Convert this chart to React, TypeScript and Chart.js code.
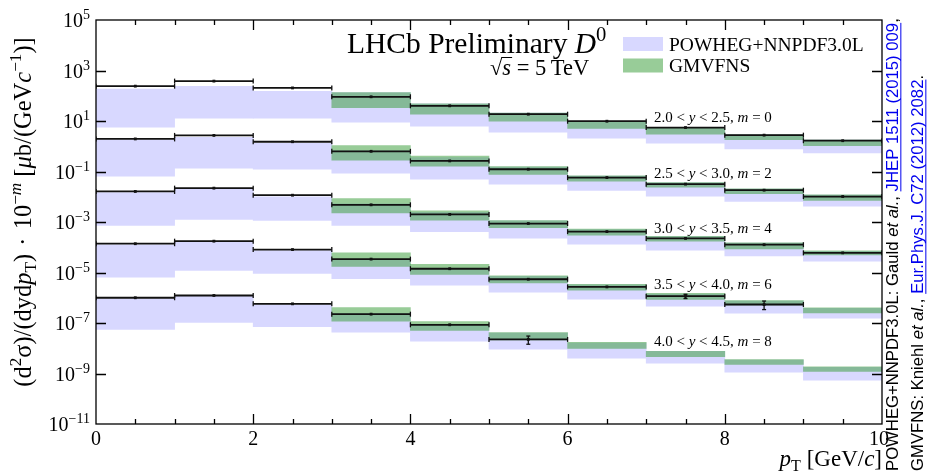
import React, { useEffect, useRef } from "react";
import { Chart, registerables } from "chart.js";

Chart.register(...registerables);

// ---------- data (plotted values, i.e. cross-section x 10^-m) ----------
const PT_EDGES = [0, 1, 2, 3, 4, 5, 6, 7, 8, 9, 10];
const M_VALUES = [0, 2, 4, 6, 8];
const Y_LO = ["2.0", "2.5", "3.0", "3.5", "4.0"];
const Y_HI = ["2.5", "3.0", "3.5", "4.0", "4.5"];

const DATA_B1 = [240, 380, 204, 91, 40, 18.6, 9.8, 5.5, 2.75, 1.66];
const DATA_B2 = [1.95, 2.69, 1.51, 0.63, 0.263, 0.123, 0.0575, 0.0316, 0.0182, 0.0102];
const DATA_B3 = [0.0162, 0.0219, 0.0115, 0.00479, 0.002, 8.7e-4, 4.17e-4, 2.24e-4, 1.26e-4, 6.0e-5];
const DATA_B4 = [1.38e-4, 1.74e-4, 8.1e-5, 3.39e-5, 1.41e-5, 5.4e-6, 2.69e-6, 1.15e-6, 5.4e-7, null];
const DATA_B5 = [1.0e-6, 1.23e-6, 5.75e-7, 2.24e-7, 8.5e-8, 2.24e-8, null, null, null, null];

const ERR_B1 = [0, 0, 0, 0, 0, 0, 0, 0, 0, 0];
const ERR_B2 = [0, 0, 0, 0, 0, 0, 0, 0, 0, 0];
const ERR_B3 = [0, 0, 0, 0, 0, 0, 0, 0, 0, 0];
const ERR_B4 = [0, 0, 0, 0, 0, 0, 0, 2.2e-7, 2.0e-7, 0];
const ERR_B5 = [0, 0, 0, 0, 0, 8e-9, 0, 0, 0, 0];

const POW_TOP_B1 = [182, 234, 148, 135, 47.9, 20.4, 9.8, 5.1, 2.82, 1.74];
const POW_BOT_B1 = [5.7, 12.9, 12.9, 8.9, 6.2, 3.63, 2.09, 1.32, 0.79, 0.54];
const POW_TOP_B2 = [1.78, 2.24, 1.32, 0.676, 0.355, 0.151, 0.066, 0.0355, 0.02, 0.0117];
const POW_BOT_B2 = [0.0646, 0.135, 0.123, 0.0851, 0.0501, 0.0316, 0.0178, 0.0105, 0.00646, 0.00427];
const POW_TOP_B3 = [0.0145, 0.0195, 0.01, 0.00525, 0.0024, 0.0011, 5.0e-4, 2.63e-4, 1.45e-4, 6.9e-5];
const POW_BOT_B3 = [7.4e-4, 0.00126, 0.00115, 7.4e-4, 4.17e-4, 2.29e-4, 1.32e-4, 7.6e-5, 4.57e-5, 2.82e-5];
const POW_TOP_B4 = [1.26e-4, 1.55e-4, 7.4e-5, 3.24e-5, 1.41e-5, 7.1e-6, 3.24e-6, 1.41e-6, 7.4e-7, 3.8e-7];
const POW_BOT_B4 = [6.5e-6, 1.2e-5, 9.3e-6, 5.75e-6, 3.16e-6, 1.66e-6, 8.7e-7, 4.68e-7, 2.45e-7, 1.55e-7];
const POW_TOP_B5 = [9.1e-7, 1.15e-6, 5.25e-7, 2.34e-7, 7.9e-8, 4.0e-8, 1.62e-8, 7.6e-9, 3.4e-9, 1.74e-9];
const POW_BOT_B5 = [5.6e-8, 1.05e-7, 7.2e-8, 4.37e-8, 1.9e-8, 9.1e-9, 4.07e-9, 2.57e-9, 1.12e-9, 5.4e-10];

const GMV_TOP_B1 = [null, null, null, 135, 47.9, 20.4, 9.8, 5.1, 2.82, 1.74];
const GMV_BOT_B1 = [null, null, null, 33.9, 18.6, 9.8, 5.1, 3.02, 1.82, 1.05];
const GMV_TOP_B2 = [null, null, null, 1.07, 0.407, 0.158, 0.0676, 0.0363, 0.0204, 0.012];
const GMV_BOT_B2 = [null, null, null, 0.282, 0.162, 0.0759, 0.0417, 0.024, 0.0132, 0.00708];
const GMV_TOP_B3 = [null, null, null, 0.0085, 0.00275, 0.00115, 5.25e-4, 2.69e-4, 1.51e-4, 7.2e-5];
const GMV_BOT_B3 = [null, null, null, 0.00229, 0.00117, 5.9e-4, 3.0e-4, 1.74e-4, 8.5e-5, 5.0e-5];
const GMV_TOP_B4 = [null, null, null, 6.0e-5, 2.09e-5, 7.4e-6, 3.39e-6, 1.48e-6, 7.8e-7, 4.0e-7];
const GMV_BOT_B4 = [null, null, null, 1.74e-5, 8.3e-6, 3.89e-6, 2.0e-6, 8.5e-7, 5.25e-7, 2.51e-7];
const GMV_TOP_B5 = [null, null, null, 4.07e-7, 1.15e-7, 4.17e-8, 1.7e-8, 7.6e-9, 3.55e-9, 1.82e-9];
const GMV_BOT_B5 = [null, null, null, 1.17e-7, 5.1e-8, 2.14e-8, 9.8e-9, 4.68e-9, 2.29e-9, 1.2e-9];

const X_TICK_LABELS = [0, 2, 4, 6, 8, 10];
const Y_TICK_EXPONENTS = [5, 3, 1, -1, -3, -5, -7, -9, -11];

const DATA = [DATA_B1, DATA_B2, DATA_B3, DATA_B4, DATA_B5];
const ERRS = [ERR_B1, ERR_B2, ERR_B3, ERR_B4, ERR_B5];
const POW = [
  [POW_BOT_B1, POW_TOP_B1],
  [POW_BOT_B2, POW_TOP_B2],
  [POW_BOT_B3, POW_TOP_B3],
  [POW_BOT_B4, POW_TOP_B4],
  [POW_BOT_B5, POW_TOP_B5],
];
const GMV = [
  [GMV_BOT_B1, GMV_TOP_B1],
  [GMV_BOT_B2, GMV_TOP_B2],
  [GMV_BOT_B3, GMV_TOP_B3],
  [GMV_BOT_B4, GMV_TOP_B4],
  [GMV_BOT_B5, GMV_TOP_B5],
];

// ---------- styling ----------
const LAVENDER = "rgb(216,216,255)";
const GREEN = "rgba(49,153,49,0.5)";
const INK = "#111";
const SERIF = '"Liberation Serif", "Times New Roman", serif';
const SANS = '"Liberation Sans", Arial, sans-serif';
const LINK = "#0000ee";

type Seg = { t: string; i?: boolean; sup?: boolean; sub?: boolean; color?: string; ul?: boolean };

function segFont(s: Seg, size: number, fam: string) {
  const sz = s.sup || s.sub ? size * 0.7 : size;
  return `${s.i ? "italic " : ""}${sz}px ${fam}`;
}
function richWidth(ctx: CanvasRenderingContext2D, segs: Seg[], size: number, fam: string) {
  let w = 0;
  for (const s of segs) {
    ctx.font = segFont(s, size, fam);
    w += ctx.measureText(s.t).width;
  }
  return w;
}
function drawRich(
  ctx: CanvasRenderingContext2D,
  segs: Seg[],
  x: number,
  y: number,
  size: number,
  fam: string,
  align: "left" | "right" | "center" = "left"
) {
  const w = richWidth(ctx, segs, size, fam);
  let cx = align === "left" ? x : align === "right" ? x - w : x - w / 2;
  const start = cx;
  ctx.textAlign = "left";
  ctx.textBaseline = "alphabetic";
  for (const s of segs) {
    ctx.font = segFont(s, size, fam);
    const dy = s.sup ? -size * 0.4 : s.sub ? size * 0.22 : 0;
    ctx.fillStyle = s.color || "#000";
    ctx.fillText(s.t, cx, y + dy);
    const sw = ctx.measureText(s.t).width;
    if (s.ul) ctx.fillRect(cx, y + size * 0.14, sw, 1);
    cx += sw;
  }
  return { start, w };
}

const Y_TITLE: Seg[] = [
  { t: "(d" },
  { t: "2", sup: true },
  { t: "σ)/(dyd" },
  { t: "p", i: true },
  { t: "T", sub: true },
  { t: ")\u2004·\u200410" },
  { t: "−", sup: true },
  { t: "m", sup: true, i: true },
  { t: " [" },
  { t: "μ", i: true },
  { t: "b/(GeV" },
  { t: "c", i: true },
  { t: "−1", sup: true },
  { t: ")]" },
];
const X_TITLE: Seg[] = [
  { t: "p", i: true },
  { t: "T", sub: true },
  { t: " [GeV/" },
  { t: "c", i: true },
  { t: "]" },
];
const TITLE: Seg[] = [{ t: "LHCb Preliminary " }, { t: "D", i: true }, { t: "0", sup: true }];
const SRC1: Seg[] = [
  { t: "POWHEG+NNPDF3.0L: Gauld " },
  { t: "et al.", i: true },
  { t: ", " },
  { t: "JHEP 1511 (2015) 009", color: LINK, ul: true },
  { t: "," },
];
const SRC2: Seg[] = [
  { t: "GMVFNS: Kniehl " },
  { t: "et al.", i: true },
  { t: ", " },
  { t: "Eur.Phys.J. C72 (2012) 2082", color: LINK, ul: true },
  { t: "." },
];
const LABEL_BASELINES = [121.5, 178, 233, 289, 346];

const decorPlugin = {
  id: "decor",
  afterDraw(chart: any) {
    const { ctx, chartArea: a } = chart;
    const xs = chart.scales.x;
    const ys = chart.scales.y;
    ctx.save();
    // frame
    ctx.strokeStyle = "#000";
    ctx.lineWidth = 1.3;
    ctx.strokeRect(a.left, a.top, a.right - a.left, a.bottom - a.top);
    ctx.beginPath();
    for (let v = 0.5; v < 10; v += 0.5) {
      const px = Math.round(xs.getPixelForValue(v)) + 0.5;
      const len = X_TICK_LABELS.includes(v) ? 10 : 5;
      ctx.moveTo(px, a.bottom);
      ctx.lineTo(px, a.bottom - len);
      ctx.moveTo(px, a.top);
      ctx.lineTo(px, a.top + len);
    }
    for (const e of Y_TICK_EXPONENTS) {
      const py = Math.round(ys.getPixelForValue(Math.pow(10, e))) + 0.5;
      if (py <= a.top + 1 || py >= a.bottom - 1) continue;
      ctx.moveTo(a.left, py);
      ctx.lineTo(a.left + 10, py);
      ctx.moveTo(a.right, py);
      ctx.lineTo(a.right - 10, py);
    }
    ctx.stroke();

    // x tick labels
    ctx.fillStyle = "#000";
    for (const v of X_TICK_LABELS) {
      const px = xs.getPixelForValue(v);
      ctx.font = `20px ${SERIF}`;
      ctx.textAlign = "center";
      ctx.textBaseline = "alphabetic";
      ctx.fillText(String(v), v === 10 ? px - 3 : px, 445);
    }
    // y tick labels
    for (const e of Y_TICK_EXPONENTS) {
      const py = ys.getPixelForValue(Math.pow(10, e));
      const segs: Seg[] = [{ t: "10" }, { t: e < 0 ? "−" + String(-e) : String(e), sup: true }];
      drawRich(ctx, segs, 90, py + 7, 20, SERIF, "right");
    }
    // axis titles
    drawRich(ctx, X_TITLE, 882, 466, 23, SERIF, "right");
    ctx.save();
    ctx.translate(31, 212);
    ctx.rotate(-Math.PI / 2);
    drawRich(ctx, Y_TITLE, 0, 0, 24.5, SERIF, "center");
    ctx.restore();

    // title
    drawRich(ctx, TITLE, 347, 53, 29.5, SERIF, "left");
    // sqrt(s) = 5 TeV
    {
      const size = 22.5;
      const x0 = 490;
      const base = 75;
      ctx.font = `${size}px ${SERIF}`;
      const wr = ctx.measureText("√").width;
      ctx.font = `italic ${size}px ${SERIF}`;
      const ws = ctx.measureText("s").width;
      drawRich(ctx, [{ t: "√" }, { t: "s", i: true }, { t: " = 5\u2009TeV" }], x0, base, size, SERIF, "left");
      ctx.fillRect(x0 + wr - 1, base - size * 0.8, ws + 2, 1);
    }

    // legend
    ctx.fillStyle = LAVENDER;
    ctx.fillRect(623, 37, 40, 14);
    ctx.fillStyle = GREEN;
    ctx.fillRect(623, 58.5, 40, 14);
    drawRich(ctx, [{ t: "POWHEG+NNPDF3.0L" }], 669, 50.5, 19.5, SERIF);
    drawRich(ctx, [{ t: "GMVFNS" }], 669, 72, 19.5, SERIF);

    // rapidity labels
    for (let k = 0; k < 5; k++) {
      const segs: Seg[] = [
        { t: `${Y_LO[k]} < ` },
        { t: "y", i: true },
        { t: ` < ${Y_HI[k]}, ` },
        { t: "m", i: true },
        { t: ` = ${M_VALUES[k]}` },
      ];
      drawRich(ctx, segs, 654, LABEL_BASELINES[k], 15, SERIF);
    }

    // sources (rotated)
    ctx.save();
    ctx.translate(898, 471);
    ctx.rotate(-Math.PI / 2);
    drawRich(ctx, SRC1, 0, 0, 16.7, SANS);
    ctx.restore();
    ctx.save();
    ctx.translate(923, 471);
    ctx.rotate(-Math.PI / 2);
    drawRich(ctx, SRC2, 0, 0, 16.7, SANS);
    ctx.restore();

    ctx.restore();
  },
};

function bandData(bot: (number | null)[], top: (number | null)[]) {
  const out: any[] = [];
  for (let i = 0; i < PT_EDGES.length - 1; i++) {
    if (bot[i] == null || top[i] == null) continue;
    out.push({ x: (PT_EDGES[i] + PT_EDGES[i + 1]) / 2, y: [bot[i], top[i]] });
  }
  return out;
}
function stepData(vals: (number | null)[]) {
  const out: any[] = [];
  for (let i = 0; i < PT_EDGES.length - 1; i++) {
    if (vals[i] == null) continue;
    out.push({ x: PT_EDGES[i], y: vals[i] });
    out.push({ x: PT_EDGES[i + 1], y: vals[i] });
    out.push({ x: PT_EDGES[i + 1], y: null });
  }
  return out;
}
function centerData(vals: (number | null)[]) {
  const out: any[] = [];
  for (let i = 0; i < PT_EDGES.length - 1; i++) {
    if (vals[i] == null) continue;
    out.push({ x: (PT_EDGES[i] + PT_EDGES[i + 1]) / 2, y: vals[i] });
  }
  return out;
}
function errData(vals: (number | null)[], errs: number[]) {
  const out: any[] = [];
  for (let i = 0; i < PT_EDGES.length - 1; i++) {
    const v = vals[i];
    if (v == null || !errs[i]) continue;
    const c = (PT_EDGES[i] + PT_EDGES[i + 1]) / 2;
    out.push({ x: c, y: v - errs[i] });
    out.push({ x: c, y: v + errs[i] });
    out.push({ x: c, y: null });
  }
  return out;
}

export default function App() {
  const ref = useRef<HTMLCanvasElement | null>(null);
  useEffect(() => {
    if (!ref.current) return;
    const datasets: any[] = [];
    POW.forEach(([b, t], k) =>
      datasets.push({
        type: "bar",
        label: `POWHEG ${k}`,
        data: bandData(b, t),
        backgroundColor: LAVENDER,
        borderWidth: 0,
        grouped: false,
        barPercentage: 1,
        categoryPercentage: 1,
        order: 5,
      })
    );
    GMV.forEach(([b, t], k) =>
      datasets.push({
        type: "bar",
        label: `GMVFNS ${k}`,
        data: bandData(b, t),
        backgroundColor: GREEN,
        borderWidth: 0,
        grouped: false,
        barPercentage: 1,
        categoryPercentage: 1,
        order: 4,
      })
    );
    DATA.forEach((vals, k) => {
      datasets.push({
        type: "line",
        label: `LHCb ${k}`,
        data: stepData(vals),
        borderColor: INK,
        borderWidth: 1.8,
        spanGaps: false,
        pointStyle: "line",
        rotation: 90,
        pointRadius: 2.5,
        pointBorderColor: INK,
        pointBorderWidth: 1.3,
        order: 3,
      });
      datasets.push({
        type: "line",
        label: `LHCb err ${k}`,
        data: errData(vals, ERRS[k]),
        borderColor: INK,
        borderWidth: 1.3,
        spanGaps: false,
        pointStyle: "line",
        pointRadius: 2,
        pointBorderColor: INK,
        pointBorderWidth: 1.3,
        order: 2,
      });
      datasets.push({
        type: "scatter",
        label: `LHCb pts ${k}`,
        data: centerData(vals),
        pointStyle: "rect",
        pointRadius: 2,
        backgroundColor: INK,
        borderColor: INK,
        borderWidth: 0,
        order: 1,
      });
    });

    const chart = new Chart(ref.current, {
      type: "bar",
      data: { datasets },
      options: {
        responsive: false,
        animation: false,
        layout: { padding: { left: 96, right: 48, top: 20, bottom: 49 } },
        scales: {
          x: { type: "linear", min: 0, max: 10, offset: false, display: false, ticks: { stepSize: 1 } },
          y: { type: "logarithmic", min: 1e-11, max: 1e5, display: false },
        },
        plugins: { legend: { display: false }, tooltip: { enabled: false } },
      },
      plugins: [decorPlugin],
    } as any);
    return () => chart.destroy();
  }, []);
  return (
    <div style={{ position: "absolute", left: 0, top: 0, width: 930, height: 473, background: "#fff" }}>
      <canvas ref={ref} width={930} height={473} />
    </div>
  );
}
